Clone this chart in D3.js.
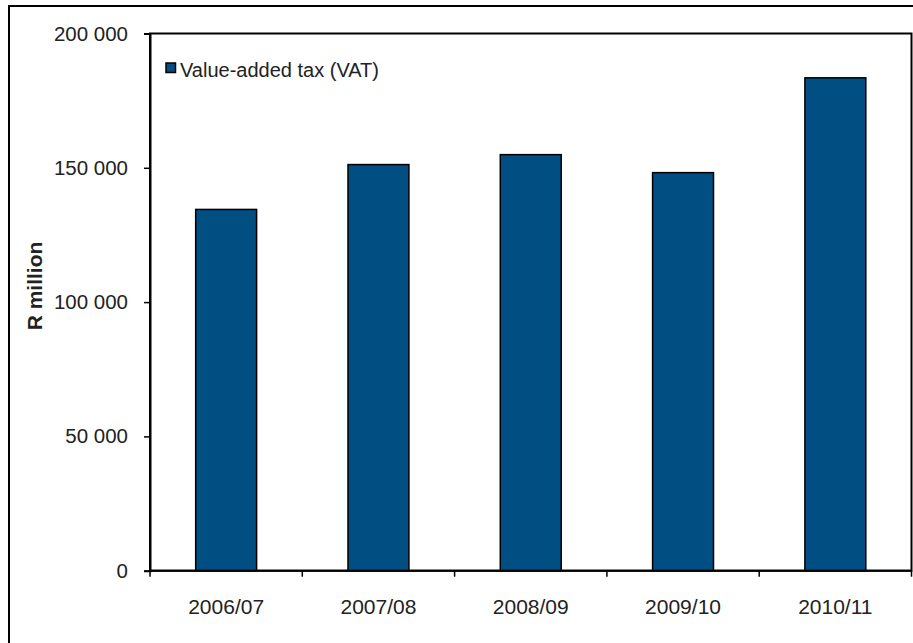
<!DOCTYPE html>
<html>
<head>
<meta charset="utf-8">
<script src="https://cdn.jsdelivr.net/npm/d3@7/dist/d3.min.js"></script>
<style>
  html, body { margin: 0; padding: 0; background: #fff; }
  svg { display: block; font-family: "Liberation Sans", Arial, sans-serif; }
</style>
</head>
<body>
<svg id="chart" width="913" height="643"></svg>
<script>
const categories = ["2006/07", "2007/08", "2008/09", "2009/10", "2010/11"];
const vatValues = [134500, 151200, 154900, 148200, 183500];
const yTicks = [0, 50000, 100000, 150000, 200000];
const seriesName = "Value-added tax (VAT)";
const yTitle = "R million";

const svg = d3.select("#chart");
const W = 913, H = 643;
const plot = { left: 150, top: 33.5, right: 911.5, bottom: 570.7 };
const barColor = "#004e82";

// outer frame
svg.append("rect")
  .attr("x", 9).attr("y", 6)
  .attr("width", W + 20).attr("height", H + 20)
  .attr("fill", "#fff").attr("stroke", "#000").attr("stroke-width", 2);

const x = d3.scaleBand()
  .domain(categories)
  .range([plot.left, plot.right])
  .paddingInner(0.6)
  .paddingOuter(0.3);

const y = d3.scaleLinear()
  .domain([0, 200000])
  .range([plot.bottom, plot.top]);

const locale = d3.formatLocale({ decimal: ".", thousands: " ", grouping: [3], currency: ["", ""] });
const fmt = locale.format(",d");

// plot area border
svg.append("rect")
  .attr("x", plot.left).attr("y", plot.top)
  .attr("width", plot.right - plot.left).attr("height", plot.bottom - plot.top)
  .attr("fill", "none").attr("stroke", "#000").attr("stroke-width", 2);

// bars
svg.append("g").selectAll("rect")
  .data(categories.map((c, i) => ({ c, v: vatValues[i] })))
  .join("rect")
  .attr("x", d => x(d.c))
  .attr("y", d => y(d.v))
  .attr("width", x.bandwidth())
  .attr("height", d => y(0) - y(d.v))
  .attr("fill", barColor)
  .attr("stroke", "#000")
  .attr("stroke-width", 1.5);

// y axis
const yAxis = svg.append("g")
  .attr("transform", `translate(${plot.left},0)`)
  .call(d3.axisLeft(y).tickValues(yTicks).tickFormat(fmt).tickSize(6).tickPadding(16));
yAxis.select(".domain").attr("stroke", "#000").attr("stroke-width", 2);
yAxis.selectAll(".tick line").attr("stroke", "#000").attr("stroke-width", 1.5);
yAxis.selectAll(".tick text")
  .attr("font-size", 20.5).attr("fill", "#222")
  .attr("font-family", "Liberation Sans, Arial, sans-serif");

// x axis with ticks at category boundaries
const xAxisG = svg.append("g").attr("transform", `translate(0,${plot.bottom})`);
xAxisG.append("line")
  .attr("x1", plot.left).attr("x2", plot.right)
  .attr("stroke", "#000").attr("stroke-width", 2);
const step = x.step();
const bounds = d3.range(categories.length + 1).map(i => plot.left + i * step);
xAxisG.selectAll(".xt").data(bounds).join("line")
  .attr("class", "xt")
  .attr("x1", d => d).attr("x2", d => d)
  .attr("y1", 0).attr("y2", 6)
  .attr("stroke", "#000").attr("stroke-width", 1.5);
xAxisG.selectAll(".xl").data(categories).join("text")
  .attr("class", "xl")
  .attr("x", d => x(d) + x.bandwidth() / 2)
  .attr("y", 43)
  .attr("text-anchor", "middle")
  .attr("font-size", 21).attr("fill", "#222")
  .text(d => d);

// y title
svg.append("text")
  .attr("transform", "translate(42,286) rotate(-90)")
  .attr("text-anchor", "middle")
  .attr("font-size", 21).attr("font-weight", "bold").attr("fill", "#222")
  .text(yTitle);

// legend
const lg = svg.append("g").attr("transform", "translate(166,63)");
lg.append("rect").attr("x", 0).attr("y", 0).attr("width", 9.5).attr("height", 9.5)
  .attr("fill", barColor).attr("stroke", "#000").attr("stroke-width", 1.5);
lg.append("text").attr("x", 14).attr("y", 14)
  .attr("font-size", 20).attr("fill", "#222")
  .text(seriesName);
</script>
</body>
</html>
